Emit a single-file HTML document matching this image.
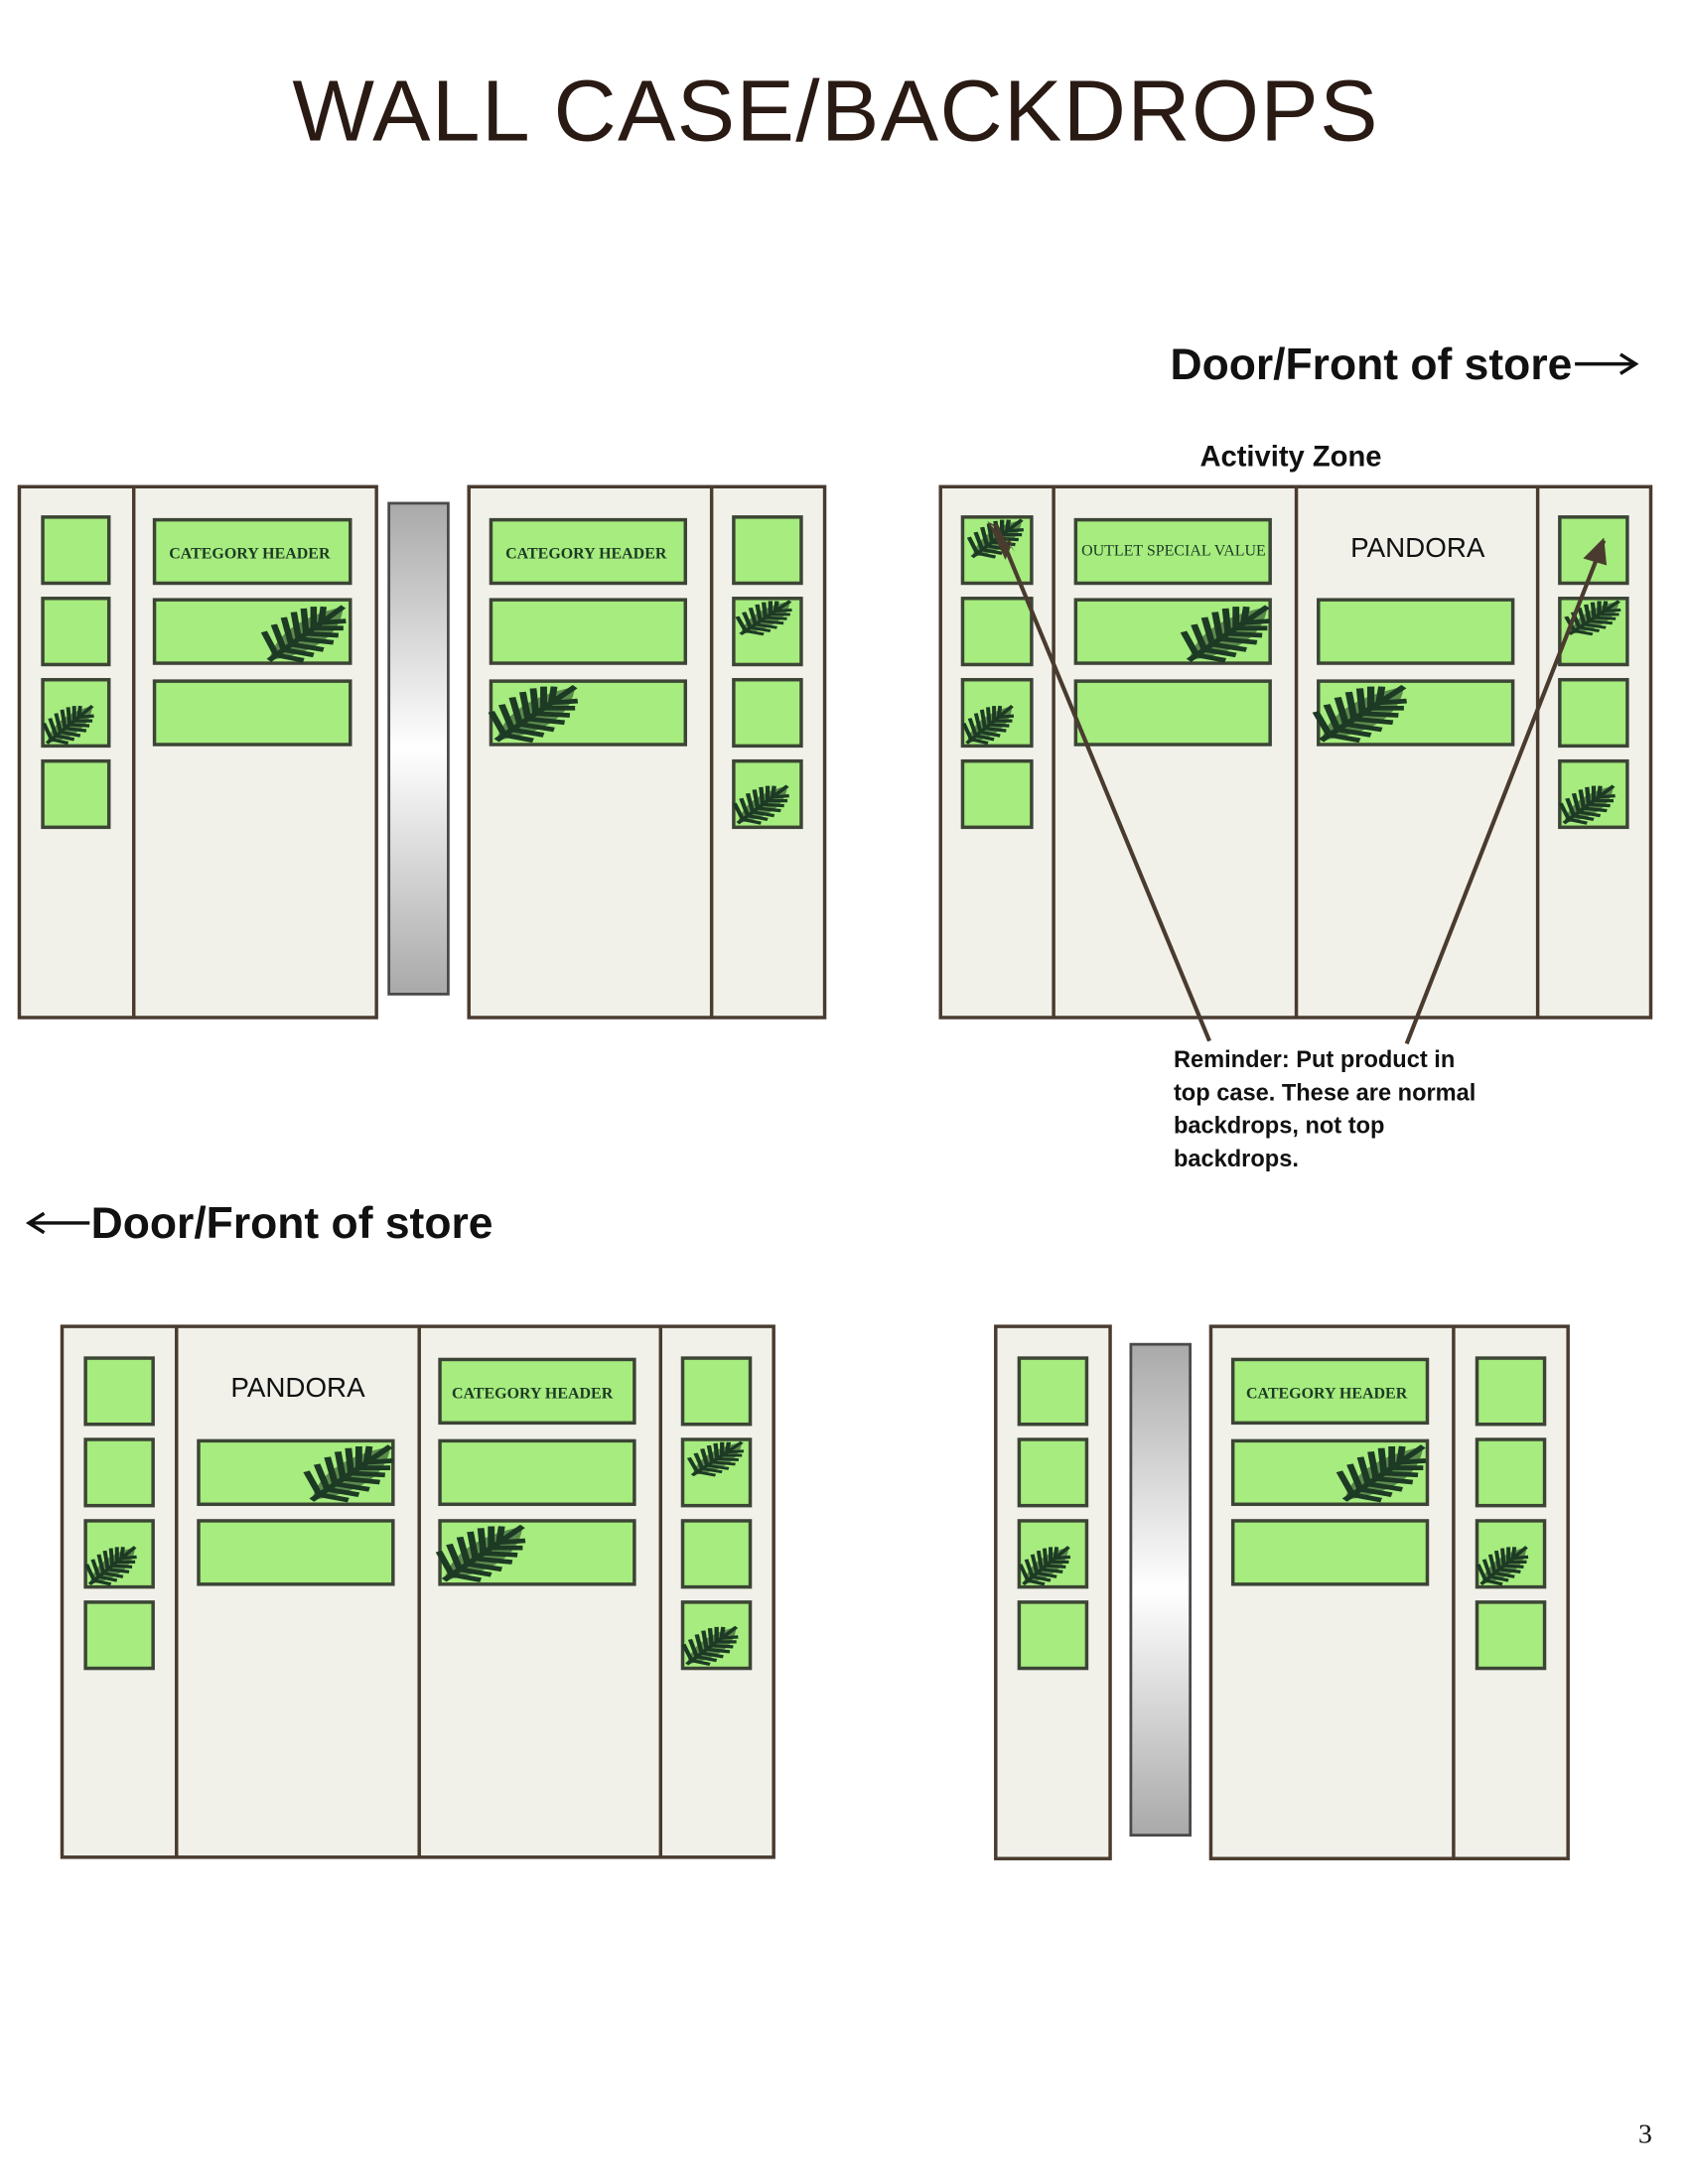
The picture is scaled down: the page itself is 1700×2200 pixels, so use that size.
<!DOCTYPE html>
<html><head><meta charset="utf-8"><style>
html,body{margin:0;padding:0;background:#fff}
svg{display:block}
</style></head><body>
<svg width="1700" height="2200" viewBox="0 0 1224 1584" xmlns="http://www.w3.org/2000/svg" font-family="Liberation Sans, sans-serif">
<defs>
<linearGradient id="pg" x1="0" y1="0" x2="0" y2="1">
<stop offset="0" stop-color="#a9a9a9"/><stop offset="0.5" stop-color="#ffffff"/><stop offset="1" stop-color="#a9a9a9"/>
</linearGradient>
<g id="leaf">
<path d="M0,30 L30,0 M3,27 L-2,14 M6,24 L2,10 M9,21 L6,6 M12,18 L10,3 M15,15 L14,1 M18,12 L18,0 M21,9 L22,0 M3,27 L14,30 M6,24 L18,27 M9,21 L22,24 M12,18 L26,20 M15,15 L28,16 M18,12 L30,12 M21,9 L31,8" stroke="#1d3a24" stroke-width="2.6" fill="none"/>
<path d="M0,30 Q4,8 30,0 Q28,24 0,30Z" fill="#1d3a24" opacity="0.55"/>
</g>
</defs>
<style>
.f{fill:#f1f1ea;stroke:#4a3b2f;stroke-width:2.5}
.g{fill:#a6ec7f;stroke:#3c4535;stroke-width:2.5}
.p{fill:url(#pg);stroke:#4a4a4a;stroke-width:2}
.h{font-family:"Liberation Serif",serif;font-size:11.5px;fill:#1d3a24;font-weight:bold}
</style>
<text x="606" y="102" text-anchor="middle" font-family="Liberation Sans, sans-serif" font-size="63" fill="#2a1a14" letter-spacing="1">WALL CASE/BACKDROPS</text>
<text x="1140" y="275" text-anchor="end" font-size="32" font-weight="bold" fill="#111">Door/Front of store</text>
<path d="M1142,264 H1185 M1175,257 L1186,264 L1175,271" stroke="#111" stroke-width="2.5" fill="none"/>
<text x="936" y="338" text-anchor="middle" font-size="21" font-weight="bold" fill="#111">Activity Zone</text>

<!-- TOP LEFT -->
<rect class="f" x="14" y="353" width="259" height="385"/><line class="f" x1="97" y1="353" x2="97" y2="738"/>
<rect class="g" x="31" y="375" width="48" height="48"/><rect class="g" x="31" y="434" width="48" height="48"/><rect class="g" x="31" y="493" width="48" height="48"/><rect class="g" x="31" y="552" width="48" height="48"/>
<rect class="g" x="112" y="377" width="142" height="46"/><rect class="g" x="112" y="435" width="142" height="46"/><rect class="g" x="112" y="494" width="142" height="46"/>
<text class="h" x="181" y="405" text-anchor="middle">CATEGORY HEADER</text>
<rect class="p" x="282" y="365" width="43" height="356"/>
<rect class="f" x="340" y="353" width="258" height="385"/><line class="f" x1="516" y1="353" x2="516" y2="738"/>
<rect class="g" x="356" y="377" width="141" height="46"/><rect class="g" x="356" y="435" width="141" height="46"/><rect class="g" x="356" y="494" width="141" height="46"/>
<text class="h" x="425" y="405" text-anchor="middle">CATEGORY HEADER</text>
<rect class="g" x="532" y="375" width="49" height="48"/><rect class="g" x="532" y="434" width="49" height="48"/><rect class="g" x="532" y="493" width="49" height="48"/><rect class="g" x="532" y="552" width="49" height="48"/>
<use href="#leaf" transform="translate(195,440) scale(1.8,1.3)"/>
<use href="#leaf" transform="translate(34,512) scale(1.1,0.9)"/>
<use href="#leaf" transform="translate(360,498) scale(1.9,1.3)"/>
<use href="#leaf" transform="translate(537,436) scale(1.2,0.8)"/>
<use href="#leaf" transform="translate(535,570) scale(1.2,0.9)"/>

<!-- TOP RIGHT -->
<rect class="f" x="682" y="353" width="515" height="385"/>
<line class="f" x1="764" y1="353" x2="764" y2="738"/><line class="f" x1="940" y1="353" x2="940" y2="738"/><line class="f" x1="1115" y1="353" x2="1115" y2="738"/>
<rect class="g" x="698" y="375" width="50" height="48"/><rect class="g" x="698" y="434" width="50" height="48"/><rect class="g" x="698" y="493" width="50" height="48"/><rect class="g" x="698" y="552" width="50" height="48"/>
<rect class="g" x="780" y="377" width="141" height="46"/><rect class="g" x="780" y="435" width="141" height="46"/><rect class="g" x="780" y="494" width="141" height="46"/>
<text class="h" x="851" y="403" text-anchor="middle" font-size="10.5" style="font-weight:normal">OUTLET SPECIAL VALUE</text>
<text x="1028" y="404" text-anchor="middle" font-size="20" fill="#111">PANDORA</text>
<rect class="g" x="956" y="435" width="141" height="46"/><rect class="g" x="956" y="494" width="141" height="46"/>
<rect class="g" x="1131" y="375" width="49" height="48"/><rect class="g" x="1131" y="434" width="49" height="48"/><rect class="g" x="1131" y="493" width="49" height="48"/><rect class="g" x="1131" y="552" width="49" height="48"/>
<use href="#leaf" transform="translate(862,440) scale(1.9,1.3)"/>
<use href="#leaf" transform="translate(958,498) scale(2,1.3)"/>
<use href="#leaf" transform="translate(705,377) scale(1.2,0.9)"/>
<use href="#leaf" transform="translate(701,512) scale(1.1,0.9)"/>
<use href="#leaf" transform="translate(1138,436) scale(1.2,0.8)"/>
<use href="#leaf" transform="translate(1134,570) scale(1.2,0.9)"/>
<path d="M877,755 L722,380 M1020,757 L1163,392" stroke="#4a3b2f" stroke-width="3" fill="none"/>
<path d="M716,378 L736,400 L723,382 Z M716,378 L734,394 L729,406 Z" fill="#4a3b2f"/>
<polygon points="1163,390 1148,405 1165,410" fill="#4a3b2f"/>
<g font-size="17" font-weight="bold" fill="#111">
<text x="851" y="774">Reminder: Put product in</text>
<text x="851" y="798">top case. These are normal</text>
<text x="851" y="822">backdrops, not top</text>
<text x="851" y="846">backdrops.</text>
</g>

<text x="66" y="898" font-size="32" font-weight="bold" fill="#111">Door/Front of store</text>
<path d="M65,887 H22 M32,880 L21,887 L32,894" stroke="#111" stroke-width="2.5" fill="none"/>

<!-- BOTTOM LEFT -->
<rect class="f" x="45" y="962" width="516" height="385"/>
<line class="f" x1="128" y1="962" x2="128" y2="1347"/><line class="f" x1="304" y1="962" x2="304" y2="1347"/><line class="f" x1="479" y1="962" x2="479" y2="1347"/>
<rect class="g" x="62" y="985" width="49" height="48"/><rect class="g" x="62" y="1044" width="49" height="48"/><rect class="g" x="62" y="1103" width="49" height="48"/><rect class="g" x="62" y="1162" width="49" height="48"/>
<text x="216" y="1013" text-anchor="middle" font-size="20" fill="#111">PANDORA</text>
<rect class="g" x="144" y="1045" width="141" height="46"/><rect class="g" x="144" y="1103" width="141" height="46"/>
<rect class="g" x="319" y="986" width="141" height="46"/><rect class="g" x="319" y="1045" width="141" height="46"/><rect class="g" x="319" y="1103" width="141" height="46"/>
<text class="h" x="386" y="1014" text-anchor="middle">CATEGORY HEADER</text>
<rect class="g" x="495" y="985" width="49" height="48"/><rect class="g" x="495" y="1044" width="49" height="48"/><rect class="g" x="495" y="1103" width="49" height="48"/><rect class="g" x="495" y="1162" width="49" height="48"/>
<use href="#leaf" transform="translate(226,1049) scale(1.9,1.3)"/>
<use href="#leaf" transform="translate(322,1107) scale(1.9,1.3)"/>
<use href="#leaf" transform="translate(65,1122) scale(1.1,0.9)"/>
<use href="#leaf" transform="translate(502,1046) scale(1.2,0.8)"/>
<use href="#leaf" transform="translate(498,1180) scale(1.2,0.9)"/>

<!-- BOTTOM RIGHT -->
<rect class="f" x="722" y="962" width="83" height="386"/>
<rect class="g" x="739" y="985" width="49" height="48"/><rect class="g" x="739" y="1044" width="49" height="48"/><rect class="g" x="739" y="1103" width="49" height="48"/><rect class="g" x="739" y="1162" width="49" height="48"/>
<rect class="p" x="820" y="975" width="43" height="356"/>
<rect class="f" x="878" y="962" width="259" height="386"/><line class="f" x1="1054" y1="962" x2="1054" y2="1348"/>
<rect class="g" x="894" y="986" width="141" height="46"/><rect class="g" x="894" y="1045" width="141" height="46"/><rect class="g" x="894" y="1103" width="141" height="46"/>
<text class="h" x="962" y="1014" text-anchor="middle">CATEGORY HEADER</text>
<rect class="g" x="1071" y="985" width="49" height="48"/><rect class="g" x="1071" y="1044" width="49" height="48"/><rect class="g" x="1071" y="1103" width="49" height="48"/><rect class="g" x="1071" y="1162" width="49" height="48"/>
<use href="#leaf" transform="translate(975,1049) scale(1.9,1.3)"/>
<use href="#leaf" transform="translate(742,1122) scale(1.1,0.9)"/>
<use href="#leaf" transform="translate(1074,1122) scale(1.1,0.9)"/>

<text x="1198" y="1554" text-anchor="end" font-family="Liberation Serif, serif" font-size="20" fill="#111">3</text>
</svg>
</body></html>
